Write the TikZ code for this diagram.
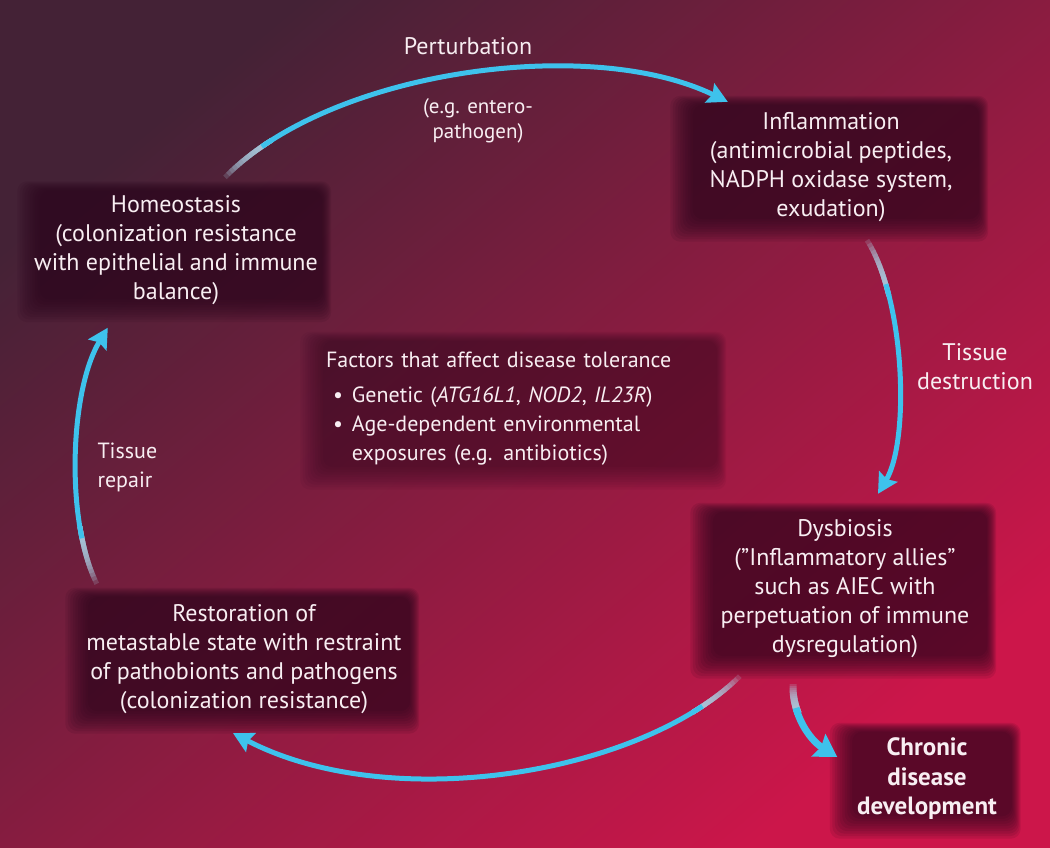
\documentclass[tikz,border=0pt]{standalone}
\usepackage{fontspec}
\setmainfont{PT Sans}
\usetikzlibrary{arrows.meta,backgrounds}
\definecolor{bgtop}{RGB}{68,34,54}
\definecolor{bgmid}{RGB}{140,52,76}
\definecolor{bgbot}{RGB}{204,22,74}
\definecolor{boxfill}{RGB}{42,5,28}
\definecolor{flowblue}{RGB}{62,194,236}
\definecolor{fadeblue}{RGB}{170,205,225}
\definecolor{txt}{RGB}{248,238,242}
\tikzset{
  lbl/.style={text=txt, font=\fontsize{24}{29}\selectfont, align=center},
  stage/.style={lbl, inner sep=0pt},
  flow/.style={flowblue, line width=5pt, -{Stealth[length=20pt,width=21pt,inset=3pt]}},
  fadeseg/.style={fadeblue, line width=5pt, opacity=0.2},
}
\begin{document}
\begin{tikzpicture}[x=1pt,y=-1pt]
\useasboundingbox (0,0) rectangle (1050,848);
\begin{pgfonlayer}{background}
\shade[top color=bgtop, middle color=bgmid, bottom color=bgbot, shading angle=40] (0,0) rectangle (1050,848);
\end{pgfonlayer}

% stages of the cycle
\node[stage, minimum width=292pt, minimum height=119pt] (homeo) at (176,250)
  {Homeostasis\\(colonization resistance\\with epithelial and immune\\balance)};
\node[stage, minimum width=296pt, minimum height=124pt] (inflam) at (831,167)
  {Inflammation\\(antimicrobial peptides,\\NADPH oxidase system,\\exudation)};
\node[stage, minimum width=284pt, minimum height=154pt] (dysb) at (845,589)
  {Dysbiosis\\(”Inflammatory allies”\\such as AIEC with\\perpetuation of immune\\dysregulation)};
\node[stage, minimum width=332pt, minimum height=124pt] (restor) at (244,659)
  {Restoration of\\metastable state with restraint\\of pathobionts and pathogens\\(colonization resistance)};
\node[stage, font=\fontsize{25}{29.5}\selectfont\bfseries, minimum width=169pt, minimum height=94pt] (chronic) at (927,779)
  {Chronic\\disease\\development};
\node[stage, font=\fontsize{22}{29}\selectfont, align=left, text width=378pt, inner xsep=13pt, minimum height=136pt] (factors) at (515,409)
  {Factors that affect disease tolerance\\[6pt]
   \hspace*{7pt}\textbullet\hspace{9pt}Genetic (\textit{ATG16L1}, \textit{NOD2}, \textit{IL23R})\\
   \hspace*{7pt}\textbullet\hspace{9pt}Age-dependent environmental\\
   \hspace*{7pt}\hphantom{\textbullet}\hspace{9pt}exposures (e.g. antibiotics)};

% labels on the arrows
\node[lbl] (pert) at (468,46) {Perturbation};
\node[lbl, font=\fontsize{21}{25}\selectfont] (eg) at (478,121) {(e.g. entero-\\pathogen)};
\node[lbl] (tdest) at (975,367) {Tissue\\destruction};
\node[lbl, font=\fontsize{22}{29}\selectfont, align=left, anchor=west] (trep) at (94,467) {Tissue\\repair};

% soft dark boxes
\begin{pgfonlayer}{background}
\foreach \n/\op in {homeo/0.11,inflam/0.11,factors/0.06,dysb/0.11,restor/0.11,chronic/0.11}
  \foreach \k [evaluate=\k as \a using 2.5*\k-10, evaluate=\k as \b using 10-2.5*\k] in {0,...,9}
    \fill[boxfill, opacity=\op, rounded corners=10pt]
      ([xshift=\b pt,yshift=\b pt]\n.south west) rectangle ([xshift=\a pt,yshift=\a pt]\n.north east);
\end{pgfonlayer}

% perturbation
\foreach \s [evaluate=\s as \r using 60-\s] in {0,4,...,44}
  \draw[fadeseg, dash pattern=on 0pt off \s pt on \r pt off 3000pt] ([xshift=49pt,yshift=13pt]homeo.north)
    .. controls (330,70) and (590,35) .. ([xshift=45pt,yshift=3pt]inflam.north west);
\draw[flow, dash pattern=on 0pt off 48pt on 3000pt] ([xshift=49pt,yshift=13pt]homeo.north)
  .. controls (330,70) and (590,35) .. ([xshift=45pt,yshift=3pt]inflam.north west);

% tissue destruction
\foreach \s [evaluate=\s as \r using 60-\s] in {0,4,...,44}
  \draw[fadeseg, dash pattern=on 0pt off \s pt on \r pt off 3000pt] ([xshift=36pt,yshift=-11pt]inflam.south)
    .. controls (905,300) and (910,440) .. ([xshift=33pt,yshift=18pt]dysb.north);
\draw[flow, dash pattern=on 0pt off 48pt on 3000pt] ([xshift=36pt,yshift=-11pt]inflam.south)
  .. controls (905,300) and (910,440) .. ([xshift=33pt,yshift=18pt]dysb.north);

% back to restoration
\foreach \s [evaluate=\s as \r using 60-\s] in {0,4,...,44}
  \draw[fadeseg, dash pattern=on 0pt off \s pt on \r pt off 3000pt] ([xshift=37pt,yshift=-10pt]dysb.south west)
    .. controls (640,775) and (390,815) .. ([xshift=-11pt,yshift=-12pt]restor.south);
\draw[flow, dash pattern=on 0pt off 48pt on 3000pt] ([xshift=37pt,yshift=-10pt]dysb.south west)
  .. controls (640,775) and (390,815) .. ([xshift=-11pt,yshift=-12pt]restor.south);

% tissue repair
\foreach \s [evaluate=\s as \r using 60-\s] in {0,4,...,44}
  \draw[fadeseg, dash pattern=on 0pt off \s pt on \r pt off 3000pt] ([xshift=19pt,yshift=13pt]restor.north west)
    .. controls (65,520) and (70,390) .. ([xshift=78pt,yshift=-18pt]homeo.south west);
\draw[flow, dash pattern=on 0pt off 48pt on 3000pt] ([xshift=19pt,yshift=13pt]restor.north west)
  .. controls (65,520) and (70,390) .. ([xshift=78pt,yshift=-18pt]homeo.south west);

% chronic disease
\foreach \s [evaluate=\s as \r using 30-\s] in {0,2,...,22}
  \draw[fadeseg, line width=7pt, dash pattern=on 0pt off \s pt on \r pt off 3000pt] ([xshift=-52pt,yshift=-18pt]dysb.south)
    .. controls (792,715) and (810,740) .. ([xshift=-5pt,yshift=22pt]chronic.west);
\draw[flow, line width=7pt, -{Stealth[length=22pt,width=26pt,inset=3pt]}, dash pattern=on 0pt off 24pt on 3000pt]
  ([xshift=-52pt,yshift=-18pt]dysb.south) .. controls (792,715) and (810,740) .. ([xshift=-5pt,yshift=22pt]chronic.west);
\end{tikzpicture}
\end{document}
